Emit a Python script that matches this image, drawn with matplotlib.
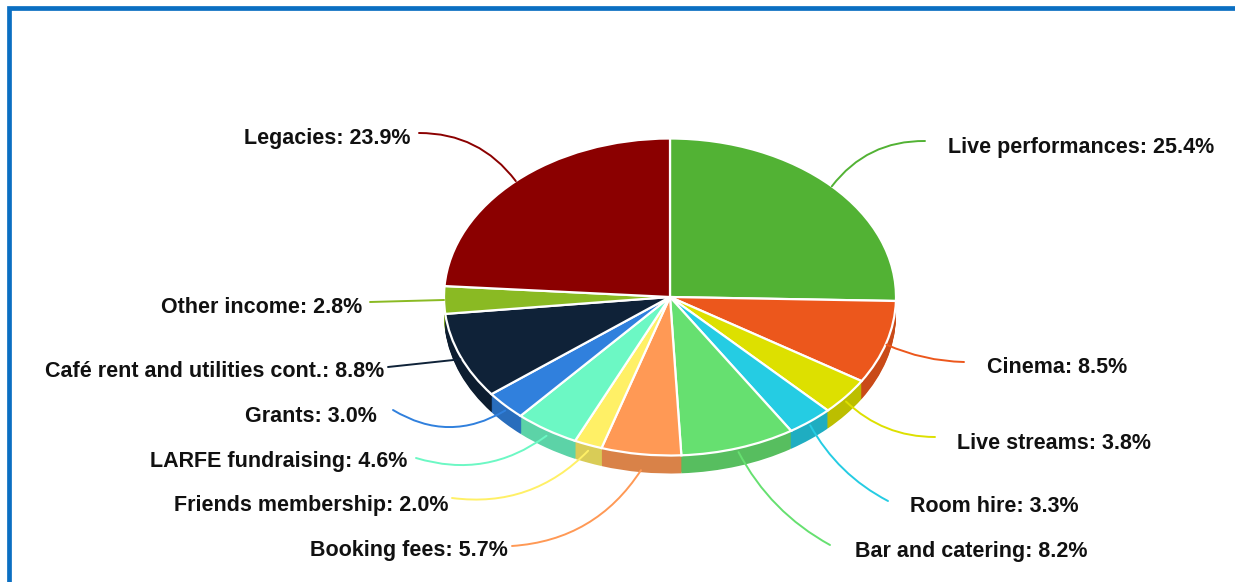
import numpy as np
import matplotlib
matplotlib.use("Agg")
from matplotlib import pyplot as plt
from matplotlib import colors as mcolors
from matplotlib.patches import Rectangle

labels = ["Live performances", "Cinema", "Live streams", "Room hire",
          "Bar and catering", "Booking fees", "Friends membership",
          "LARFE fundraising", "Grants", "Café rent and utilities cont.",
          "Other income", "Legacies"]
shares = [25.4, 8.5, 3.8, 3.3, 8.2, 5.7, 2.0, 4.6, 3.0, 8.8, 2.8, 23.9]
slice_colors = ["#52b234", "#ec571c", "#dde000", "#25cce3", "#66e070", "#ff9955",
                "#fff066", "#6cf8c4", "#3080dd", "#0f2238", "#8aba23", "#8b0000"]

# label layout in image pixels (from top-left): text anchor, line end, curve, drop
text_pos = [(948, 153), (987, 373), (957, 449), (910, 512), (855, 557),
            (508, 556), (449, 511), (407, 467), (377, 422), (384, 377),
            (362, 313), (411, 144)]
line_end = [(925, 141), (964, 362), (935, 437), (888, 501), (830, 545),
            (512, 546), (452, 498), (416, 458), (393, 410), (388, 367),
            (370, 302), (419, 133)]
line_rad = [0.25, -0.1, -0.2, -0.15, -0.15, 0.25, 0.25, 0.25, 0.3, 0.0, 0.0, -0.25]
anchor_drop = [0, 2, 5, 4, 4, 16, 6, 6, 5, 3, 0, 0]

W, H = 1235, 582
CX, CY = 670, 297
RX, RY = 226, 158.5
DEPTH = 18


def to_data(x, y):
    return (x - CX) / RX, (CY - y) / RY


fig = plt.figure(figsize=(W / 100, H / 100), dpi=100)
ax = fig.add_axes([0, 0, 1, 1])

# side of the "3d" pie: stacked darker pies
side_colors = [tuple(np.array(mcolors.to_rgb(c)) * 0.85) for c in slice_colors]
for k in range(DEPTH, 0, -1):
    ax.pie(shares, colors=side_colors, startangle=90, counterclock=False,
           center=(0, -k / RY), wedgeprops=dict(linewidth=0))

wedges, _ = ax.pie(shares, colors=slice_colors, startangle=90, counterclock=False,
                   wedgeprops=dict(edgecolor="white", linewidth=1.6))

ax.set_xlim(-CX / RX, (W - CX) / RX)
ax.set_ylim(-(H - CY) / RY, CY / RY)
ax.set_aspect("auto")
ax.axis("off")

for i, w in enumerate(wedges):
    th = np.deg2rad((w.theta1 + w.theta2) / 2)
    ax_x, ax_y = np.cos(th), np.sin(th) - anchor_drop[i] / RY
    ax.annotate("", xy=(ax_x, ax_y), xytext=to_data(*line_end[i]),
                arrowprops=dict(arrowstyle="-", color=slice_colors[i], lw=1.4,
                                shrinkA=0, shrinkB=0,
                                connectionstyle=f"arc3,rad={line_rad[i]}"),
                zorder=5)
    tx, ty = text_pos[i]
    fig.text(tx / W, 1 - ty / H, f"{labels[i]}: {shares[i]:.1f}%",
             ha="left" if tx > CX else "right", va="baseline",
             fontsize=15.5, fontweight="bold", color="#111111",
             family=["Liberation Sans", "DejaVu Sans"])

# blue frame round the chart
fig.add_artist(Rectangle((8.5 / W, -0.1), 1.2, 1 - 7.5 / H + 0.1,
                         transform=fig.transFigure, fill=False,
                         edgecolor="#0b6fc2", linewidth=3.4))

fig.savefig("out.png", dpi=100)
